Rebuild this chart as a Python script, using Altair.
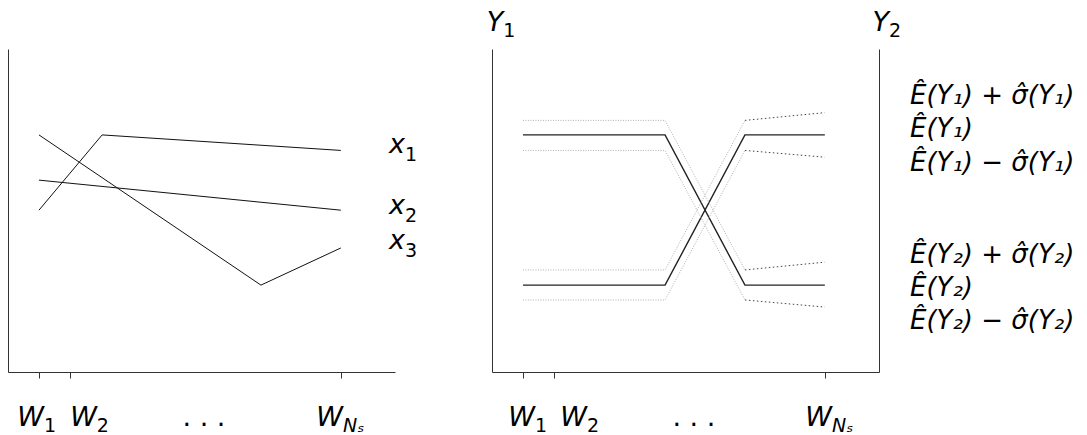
import altair as alt
import pandas as pd

# ---------------- data ----------------
W_TICKS = [1, 2, 10.75]                 # positions of W_1, W_2, W_Ns

# left panel: three profiles x1, x2, x3
X1_X = [1, 3.04, 10.75]
X1_Y = [5.01, 7.34, 6.86]
X2_X = [1, 10.75]
X2_Y = [5.94, 5.01]
X3_X = [1, 8.17, 10.75]
X3_Y = [7.34, 2.69, 3.84]

# right panel: two means with +/- sigma bands
R_X = [1, 5.59, 8.17, 10.75]
MEAN_A = [7.34, 7.34, 2.69, 2.69]
MEAN_B = [2.69, 2.69, 7.34, 7.34]
A_UP = [7.79, 7.79, 3.16, 3.40]
A_LO = [6.86, 6.86, 2.23, 2.01]
B_UP = [3.16, 3.16, 7.79, 8.03]
B_LO = [2.23, 2.23, 6.86, 6.65]

# texts
TICK_MAIN = ["W", "W", "W"]
TICK_SUB = ["1", "2", "Nₛ"]
TICK_SUB_ITALIC = [False, False, True]
DOTS = ". . ."
SERIES_MAIN = ["x", "x", "x"]
SERIES_SUB = ["1", "2", "3"]
TITLE_MAIN = ["Y", "Y"]
TITLE_SUB = ["1", "2"]
LEGEND_TEXT = ["Ê(Y₁) + σ̂(Y₁)", "Ê(Y₁)", "Ê(Y₁) − σ̂(Y₁)",
               "Ê(Y₂) + σ̂(Y₂)", "Ê(Y₂)", "Ê(Y₂) − σ̂(Y₂)"]

# text anchors (in the charts' data coordinates)
LEFT_TICK_LABEL_X = [1.16, 2.87, 10.82]
RIGHT_TICK_LABEL_X = [1.39, 3.07, 10.98]
LEFT_DOTS_X = 6.33
RIGHT_DOTS_X = 6.52
TICK_LABEL_Y = -1.67
SERIES_LABEL_X = 12.82
SERIES_LABEL_Y = [6.78, 4.89, 3.81]
TITLE_X = [0.36, 12.82]
TITLE_Y = [10.56, 10.56]
LEGEND_X = 13.5
LEGEND_Y = [8.30, 7.28, 6.22, 3.37, 2.35, 1.33]

# ---------------- frames ----------------
def series_frame(named):
    rows = []
    for name, xs, ys in named:
        for i, (xv, yv) in enumerate(zip(xs, ys)):
            rows.append({"series": name, "idx": i, "x": xv, "y": yv})
    return pd.DataFrame(rows)

left_df = series_frame([("x1", X1_X, X1_Y), ("x2", X2_X, X2_Y), ("x3", X3_X, X3_Y)])
mean_df = series_frame([("A", R_X, MEAN_A), ("B", R_X, MEAN_B)])
bands = [("A_up", A_UP), ("A_lo", A_LO), ("B_up", B_UP), ("B_lo", B_LO)]
band_main_df = series_frame([(n, R_X[:3], v[:3]) for n, v in bands])
band_tail_df = series_frame([(n, R_X[2:], v[2:]) for n, v in bands])

def tick_frame(xs):
    return pd.DataFrame({"x": xs, "y": [TICK_LABEL_Y] * len(xs), "main": TICK_MAIN,
                         "sub": TICK_SUB, "ital": TICK_SUB_ITALIC})

left_tick_df = tick_frame(LEFT_TICK_LABEL_X)
right_tick_df = tick_frame(RIGHT_TICK_LABEL_X)
left_dots_df = pd.DataFrame({"x": [LEFT_DOTS_X], "y": [TICK_LABEL_Y], "t": [DOTS]})
right_dots_df = pd.DataFrame({"x": [RIGHT_DOTS_X], "y": [TICK_LABEL_Y], "t": [DOTS]})
serlab_df = pd.DataFrame({"x": [SERIES_LABEL_X] * 3, "y": SERIES_LABEL_Y,
                          "main": SERIES_MAIN, "sub": SERIES_SUB})
title_df = pd.DataFrame({"x": TITLE_X, "y": TITLE_Y, "main": TITLE_MAIN, "sub": TITLE_SUB})
legend_df = pd.DataFrame({"x": [LEGEND_X] * 6, "y": LEGEND_Y, "t": LEGEND_TEXT})

# ---------------- styling ----------------
FONT = "DejaVu Sans"
BIG = 27
SMALL = 19
LEG = 26
AXC = "#333333"
W, H = 387, 323

XS = alt.Scale(domain=[0, 12.5], nice=False, zero=False)
YS = alt.Scale(domain=[0, 10], nice=False, zero=False)

AX_X = alt.Axis(values=W_TICKS, labels=False, ticks=True, tickSize=6, grid=False, title=None,
                domainColor=AXC, tickColor=AXC, domainWidth=1, tickWidth=1)
AX_Y_L = alt.Axis(labels=False, ticks=False, grid=False, title=None, domainColor=AXC,
                  domainWidth=1, orient="left")
AX_Y_R = alt.Axis(labels=False, ticks=False, grid=False, title=None, domainColor=AXC,
                  domainWidth=1, orient="right")


def enc(yaxis):
    return dict(x=alt.X("x:Q", scale=XS, axis=AX_X), y=alt.Y("y:Q", scale=YS, axis=yaxis))


def main_text(df, yaxis):
    return alt.Chart(df).mark_text(font=FONT, fontSize=BIG, fontStyle="italic", align="right",
                                   baseline="alphabetic", color="black").encode(
        text="main:N", **enc(yaxis))


def sub_text(df, yaxis, italic=False, dy=6):
    return alt.Chart(df).mark_text(font=FONT, fontSize=SMALL,
                                   fontStyle="italic" if italic else "normal", align="left",
                                   baseline="alphabetic", dy=dy, color="black").encode(
        text="sub:N", **enc(yaxis))


def plain_text(df, yaxis, size, italic=False, align="left"):
    return alt.Chart(df).mark_text(font=FONT, fontSize=size,
                                   fontStyle="italic" if italic else "normal", align=align,
                                   baseline="alphabetic", color="black").encode(
        text="t:N", **enc(yaxis))


# ---------------- left panel ----------------
left_lines = alt.Chart(left_df).mark_line(color="#111111", strokeWidth=1).encode(
    detail="series:N", order="idx:Q", **enc(AX_Y_L))

left = alt.layer(
    left_lines,
    main_text(left_tick_df, AX_Y_L),
    sub_text(left_tick_df.query("~ital"), AX_Y_L),
    sub_text(left_tick_df.query("ital"), AX_Y_L, italic=True),
    plain_text(left_dots_df, AX_Y_L, BIG, align="center"),
    main_text(serlab_df, AX_Y_L),
    sub_text(serlab_df, AX_Y_L, dy=8),
).properties(width=W, height=H)

# ---------------- right panel ----------------
means = alt.Chart(mean_df).mark_line(color="#222222", strokeWidth=1.4).encode(
    detail="series:N", order="idx:Q", **enc(AX_Y_L))
band_main = alt.Chart(band_main_df).mark_line(color="#b0b0b0", strokeWidth=1,
                                              strokeDash=[1, 1.5]).encode(
    detail="series:N", order="idx:Q", **enc(AX_Y_R))
band_tail = alt.Chart(band_tail_df).mark_line(color="#444444", strokeWidth=1,
                                              strokeDash=[1.5, 2.5]).encode(
    detail="series:N", order="idx:Q", **enc(None))

right = alt.layer(
    means,
    band_main,
    band_tail,
    main_text(right_tick_df, None),
    sub_text(right_tick_df.query("~ital"), None),
    sub_text(right_tick_df.query("ital"), None, italic=True),
    plain_text(right_dots_df, None, BIG, align="center"),
    main_text(title_df, None),
    sub_text(title_df, None, dy=6),
    plain_text(legend_df, None, LEG, italic=True),
).resolve_axis(y="independent").properties(width=W, height=H)

chart = alt.hconcat(left, right, spacing=97, bounds="flush", padding=0).configure_view(
    stroke=None)

chart.save("out.html", embed_options={"renderer": "svg", "actions": False})
